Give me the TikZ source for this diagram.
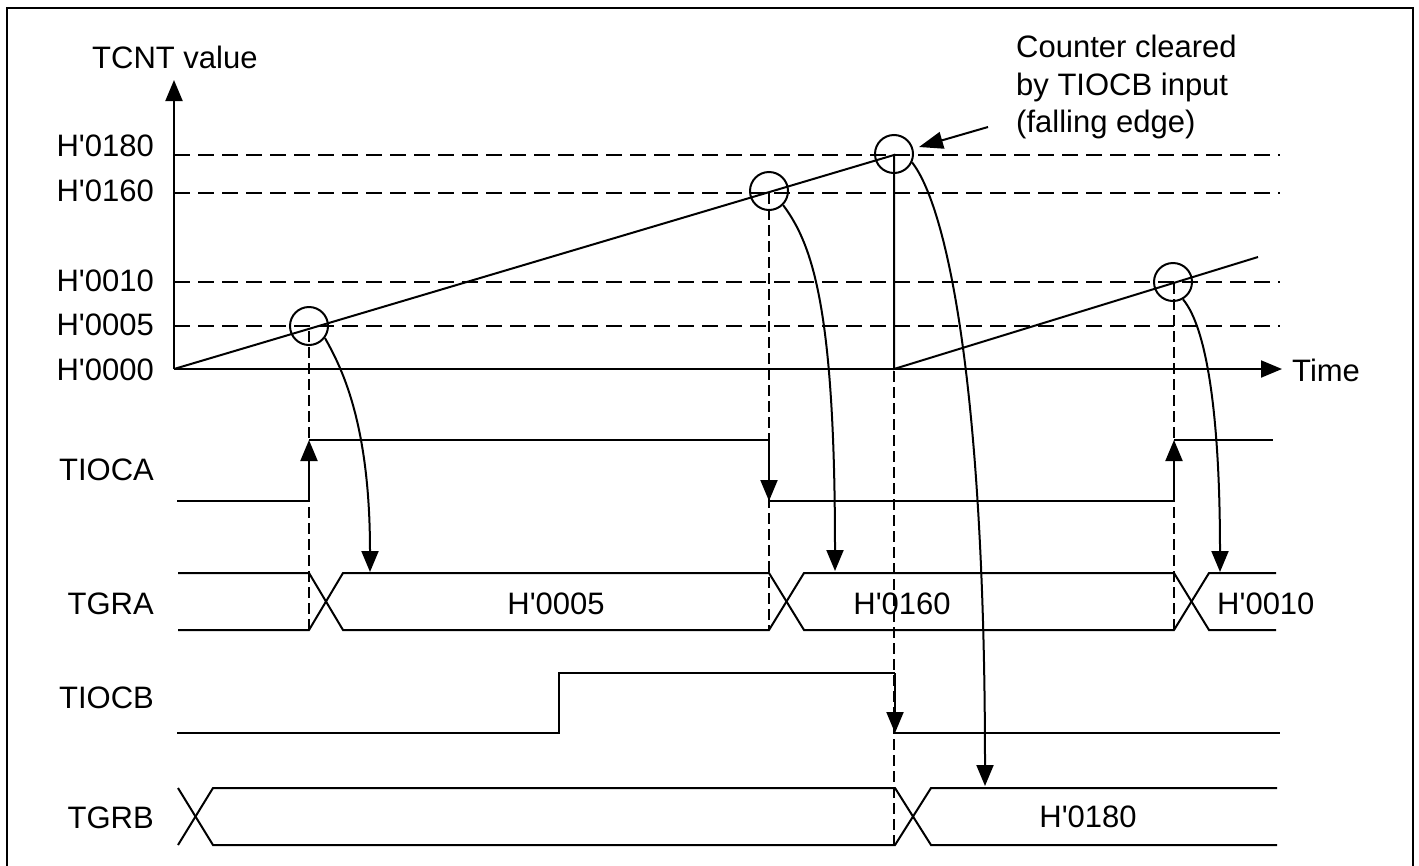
\documentclass[tikz,border=0pt]{standalone}
\usepackage{fontspec}
\setmainfont{Liberation Sans}[Ligatures=TeXOff]
\usetikzlibrary{arrows.meta}
\begin{document}
\begin{tikzpicture}[x=1pt,y=-1pt,
  lbl/.style={inner sep=0pt, font=\fontsize{31}{37.5}\selectfont},
  sig/.style={line width=2pt},
  dsh/.style={line width=1.1pt, dash pattern=on 16pt off 8pt},
  vdsh/.style={line width=1.1pt, dash pattern=on 11pt off 5pt},
  tip/.style={-{Triangle[length=21pt,width=17pt]}},
  ring/.style={circle, draw, line width=2pt, minimum size=38pt, inner sep=0pt}]
\useasboundingbox (0,0) rectangle (1419,865);
\draw[line width=2.7pt] (7,867) -- (7,8) -- (1413,8) -- (1413,867);

% key coordinates
\coordinate (o) at (174,369);
\coordinate (ytop) at (174,80);
\coordinate (xend) at (1282,369);
\coordinate (pk) at (894,155);
\coordinate (clr) at (894,369);
\coordinate (r2) at (1258,257);

% horizontal guide lines
\foreach \yy in {155,193,282,326} \draw[dsh] (174,\yy) -- (1280,\yy);
% vertical guide lines
\draw[vdsh] (309,331) -- (309,630);
\draw[vdsh] (769,193) -- (769,630);
\draw[vdsh] (894,371) -- (894,845);
\draw[vdsh] (1174,283) -- (1174,630);

% axes
\draw[sig,tip] (o) -- (ytop);
\draw[sig,tip] (o) -- (xend);
\node[lbl,anchor=base west] (tcnt) at (92,68) {TCNT value};
\node[lbl,anchor=base west] (time) at (1292,381) {Time};
\node[lbl,anchor=base east] (l180) at (154,156) {H'0180};
\node[lbl,anchor=base east] (l160) at (154,201) {H'0160};
\node[lbl,anchor=base east] (l010) at (154,291) {H'0010};
\node[lbl,anchor=base east] (l005) at (154,335) {H'0005};
\node[lbl,anchor=base east] (l000) at (154,380) {H'0000};

% counter ramps
\draw[sig] (o) -- (pk) -- (clr) -- (r2);

% circles
\node[ring] (c5) at (309,326) {};
\node[ring] (c160) at (769,191) {};
\node[ring] (c180) at (894,154) {};
\node[ring] (c10) at (1173,282) {};

% callout
\node[lbl,anchor=north west,align=left] (note) at (1016,35) {Counter cleared\\by TIOCB input\\(falling edge)};
\coordinate (nt) at (988,127);
\coordinate (nh) at (919,147);
\draw[line width=2pt,-{Triangle[length=24pt,width=17pt]}] (nt) -- (nh);

% signal names
\node[lbl,anchor=base east] (tioca) at (154,480) {TIOCA};
\node[lbl,anchor=base east] (tgra) at (154,614) {TGRA};
\node[lbl,anchor=base east] (tiocb) at (154,708) {TIOCB};
\node[lbl,anchor=base east] (tgrb) at (154,828) {TGRB};

% TIOCA
\draw[sig] (177,501) -- (309,501);
\draw[sig,tip] (309,501) -- (309,440);
\draw[sig] (309,440) -- (769,440);
\draw[sig,tip] (769,440) -- (769,501);
\draw[sig] (769,501) -- (1174,501);
\draw[sig,tip] (1174,501) -- (1174,440);
\draw[sig] (1174,440) -- (1273,440);

% TGRA bus
\draw[sig] (178,573) -- (309,573) -- (343,630) -- (769,630) -- (804,573) -- (1174,573) -- (1209,630) -- (1276,630);
\draw[sig] (178,630) -- (309,630) -- (343,573) -- (769,573) -- (804,630) -- (1174,630) -- (1209,573) -- (1276,573);
\node[lbl,anchor=base] (v005) at (556,614) {H'0005};
\node[lbl,anchor=base] (v160) at (902,614) {H'0160};
\node[lbl,anchor=base west] (v010) at (1217,614) {H'0010};

% TIOCB
\draw[sig] (177,733) -- (559,733) -- (559,673) -- (895,673);
\draw[sig,tip] (895,673) -- (895,733);
\draw[sig] (895,733) -- (1280,733);

% TGRB bus
\draw[sig] (178,788) -- (213,845) -- (895,845) -- (931,788) -- (1277,788);
\draw[sig] (178,845) -- (213,788) -- (895,788) -- (931,845) -- (1277,845);
\node[lbl,anchor=base] (v180) at (1088,827) {H'0180};

% capture arrows
\coordinate (a1) at (370,572);
\coordinate (a2) at (835,571);
\coordinate (a3) at (985,786);
\coordinate (a4) at (1220,572);
\draw[sig,tip] (c5.-37) .. controls +(15,27) and +(0,-152) .. (a1);
\draw[sig,tip] (c160.-45) .. controls +(30,40) and +(0,-260) .. (a2);
\draw[sig,tip] (c180.-25) .. controls +(35,45) and +(0,-400) .. (a3);
\draw[sig,tip] (c10.-60) .. controls +(25,30) and +(0,-150) .. (a4);
\end{tikzpicture}
\end{document}
